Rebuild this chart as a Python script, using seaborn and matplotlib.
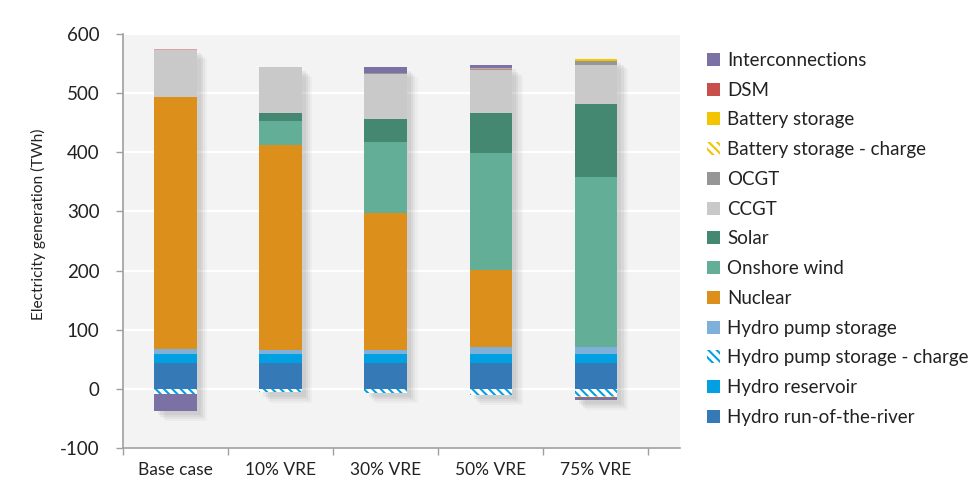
import numpy as np
import matplotlib
matplotlib.use("Agg")
import matplotlib.pyplot as plt
import matplotlib.transforms as mtransforms
from matplotlib.patches import Patch
import seaborn as sns

categories = ["Base case", "10% VRE", "30% VRE", "50% VRE", "75% VRE"]

# positive generation (TWh), bottom to top
hydro_river = [44.5, 44.5, 44.5, 44.5, 44.5]
hydro_reservoir = [14.5, 14.5, 14.5, 14.5, 14.5]
hydro_pump = [8.5, 7.0, 7.5, 11.0, 12.5]
nuclear = [426.5, 346.0, 230.5, 131.0, 0.0]
onshore_wind = [0.0, 41.5, 120.0, 198.0, 286.5]
solar = [0.0, 13.5, 40.0, 68.0, 123.5]
ccgt = [79.0, 77.0, 75.0, 72.0, 66.5]
ocgt = [0.0, 0.0, 1.5, 2.0, 7.0]
battery = [0.0, 0.0, 0.0, 0.0, 3.0]
dsm = [1.5, 0.5, 0.0, 2.0, 0.0]
interconnections_pos = [0.0, 0.5, 11.0, 4.0, 0.0]

# negative (charging / exports), from zero downwards
hydro_pump_charge = [-9.0, -6.0, -7.0, -10.0, -12.5]
battery_charge = [0.0, 0.0, 0.0, 0.0, -2.0]
interconnections_neg = [-28.0, 0.0, 0.0, 0.0, -4.0]

yticks = [-100, 0, 100, 200, 300, 400, 500, 600]

colors = {
    "Interconnections": "#7b71a5",
    "DSM": "#e0a0a0",
    "Battery storage": "#f2c500",
    "Battery storage - charge": "#f2c500",
    "OCGT": "#969696",
    "CCGT": "#c9c9c9",
    "Solar": "#458872",
    "Onshore wind": "#63ae96",
    "Nuclear": "#dc8f1a",
    "Hydro pump storage": "#7fb0da",
    "Hydro pump storage - charge": "#00a0e3",
    "Hydro reservoir": "#00a0e3",
    "Hydro run-of-the-river": "#357ab6",
}
legend_colors = dict(colors, DSM="#c8504a")

sns.set_theme(style="white")
plt.rcParams["font.family"] = ["Lato", "DejaVu Sans"]
plt.rcParams["hatch.linewidth"] = 1.5

fig = plt.figure(figsize=(9.78, 4.99), dpi=100)
ax = fig.add_axes([0.1258, 0.1022, 0.6953 - 0.1258, 0.9319 - 0.1022])
ax.set_facecolor("#f3f3f3")

bar_w = 0.406
HATCH = "\\\\\\\\"

pos_stack = [
    ("Hydro run-of-the-river", hydro_river),
    ("Hydro reservoir", hydro_reservoir),
    ("Hydro pump storage", hydro_pump),
    ("Nuclear", nuclear),
    ("Onshore wind", onshore_wind),
    ("Solar", solar),
    ("CCGT", ccgt),
    ("OCGT", ocgt),
    ("Battery storage", battery),
    ("DSM", dsm),
    ("Interconnections", interconnections_pos),
]
neg_stack = [
    ("Hydro pump storage - charge", hydro_pump_charge),
    ("Battery storage - charge", battery_charge),
    ("Interconnections", interconnections_neg),
]

pos_cum = np.cumsum([np.array(v) for _, v in pos_stack], axis=0)
neg_cum = np.cumsum([np.array(v) for _, v in neg_stack], axis=0)

# soft drop shadow behind each stack
x = np.arange(len(categories))
top = pos_cum[-1]
bot = neg_cum[-1]
for d, a in [(7.5, 0.05), (6, 0.07), (4.5, 0.09), (3, 0.09)]:
    tr = ax.transData + mtransforms.ScaledTranslation(d / 72, -d / 72, fig.dpi_scale_trans)
    ax.bar(x, top - bot, bottom=bot, width=bar_w, color="#707070", alpha=a,
           linewidth=0, transform=tr, zorder=1.5)


def draw(vals, name, hatched=False):
    n0 = len(ax.patches)
    sns.barplot(x=categories, y=list(vals), color=colors[name], width=bar_w,
                saturation=1, ax=ax, linewidth=0, zorder=2)
    for p in ax.patches[n0:]:
        if hatched:
            p.set_facecolor("white")
            p.set_edgecolor(colors[name])
            p.set_hatch(HATCH)
            p.set_linewidth(0)
        else:
            p.set_edgecolor("none")
        p.set_zorder(2)


for i in range(len(pos_stack) - 1, -1, -1):
    draw(pos_cum[i], pos_stack[i][0])
for i in range(len(neg_stack) - 1, -1, -1):
    name = neg_stack[i][0]
    draw(neg_cum[i], name, hatched=name.endswith("charge"))

ax.set_xlim(-0.5, 4.8)
ax.set_ylim(-100, 600)
ax.set_yticks(yticks)
ax.set_yticklabels([str(t) for t in yticks], fontsize=13.5, color="#222222")
ax.set_xticks([-0.5, 0.5, 1.5, 2.5, 3.5, 4.5])
ax.set_xticklabels([])
ax.set_xticks(x, minor=True)
ax.set_xticklabels(categories, minor=True, fontsize=12.5, color="#222222")
ax.tick_params(axis="x", which="major", direction="out", length=5, width=1, color="#a0a0a0", bottom=True)
ax.tick_params(axis="x", which="minor", length=0, pad=10)
ax.tick_params(axis="y", direction="out", length=5, width=1, color="#a0a0a0", left=True, pad=12)
ax.set_axisbelow(True)
ax.yaxis.grid(True, color="white", linewidth=1.6)
ax.xaxis.grid(False)
for s in ["top", "right"]:
    ax.spines[s].set_visible(False)
for s in ["left", "bottom"]:
    ax.spines[s].set_color("#a0a0a0")
    ax.spines[s].set_linewidth(1.2)
ax.set_xlabel("")
ax.set_ylabel("Electricity generation (TWh)", fontsize=11.2, color="#222222")
ax.yaxis.set_label_coords(-0.138, 0.541)

legend_order = ["Interconnections", "DSM", "Battery storage", "Battery storage - charge",
                "OCGT", "CCGT", "Solar", "Onshore wind", "Nuclear", "Hydro pump storage",
                "Hydro pump storage - charge", "Hydro reservoir", "Hydro run-of-the-river"]
handles = []
for n in legend_order:
    if n.endswith("charge"):
        handles.append(Patch(facecolor="white", edgecolor=legend_colors[n], hatch=HATCH, linewidth=0, label=n))
    else:
        handles.append(Patch(facecolor=legend_colors[n], edgecolor="none", label=n))
fig.legend(handles=handles, loc="upper left", bbox_to_anchor=(0.715, 0.911),
           frameon=False, fontsize=13.5, handlelength=0.7, handleheight=0.7,
           handletextpad=0.4, labelspacing=0.68, borderaxespad=0, labelcolor="#222222")

fig.savefig("out.png", dpi=100, facecolor="white")
